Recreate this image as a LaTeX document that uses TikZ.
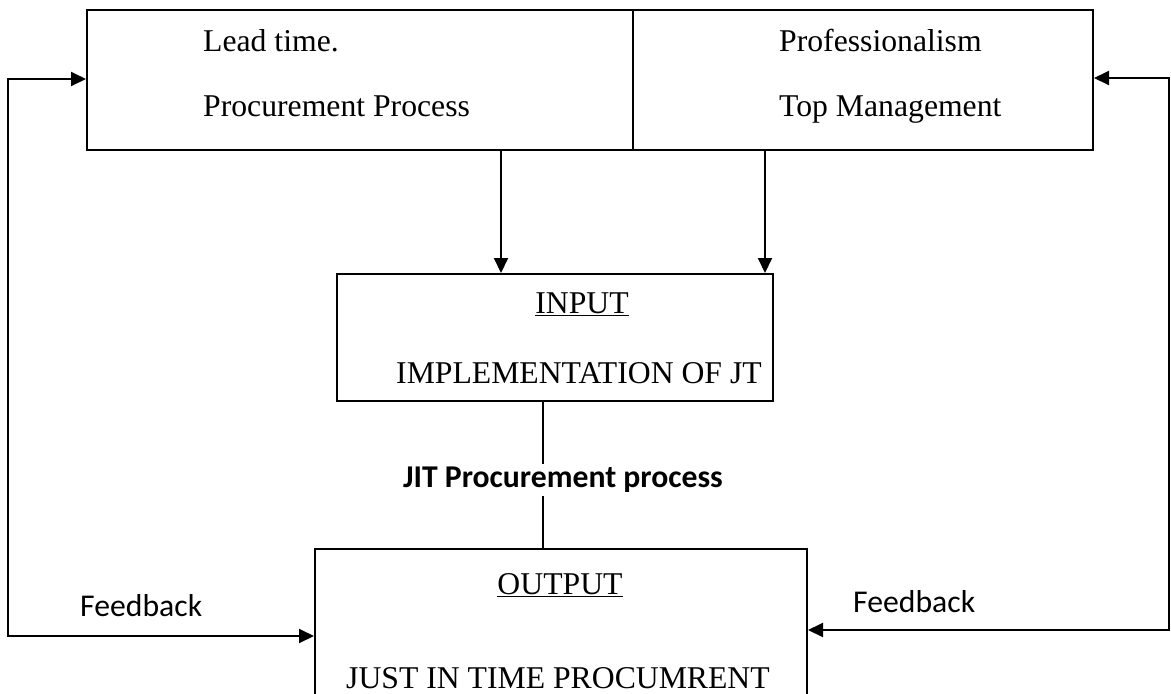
\documentclass[tikz,border=0pt]{standalone}
\usepackage{fontspec}
\setmainfont{Liberation Serif}
\newfontfamily\calfont{Carlito}
\usetikzlibrary{arrows.meta,calc}
\tikzset{
  box/.style={draw, line width=2pt, inner sep=0pt},
  txt/.style={inner sep=0pt, font=\fontsize{31.7}{38}\selectfont},
  lbl/.style={inner sep=0pt, font=\calfont\fontsize{31.7}{38}\selectfont},
  link/.style={line width=2pt, -{Triangle[length=15pt,width=14pt]}},
  dlink/.style={line width=2pt, {Triangle[length=15pt,width=14pt]}-{Triangle[length=15pt,width=14pt]}},
}
\begin{document}
\begin{tikzpicture}[x=1pt,y=-1pt]
\clip (0,0) rectangle (1171,694);
\fill[white] (0,0) rectangle (1171,694);

% boxes
\node[box, minimum width=546pt, minimum height=140pt] (topL) at (360,80) {};
\node[box, minimum width=460pt, minimum height=140pt] (topR) at (863,80) {};
\node[box, minimum width=436pt, minimum height=127pt] (inp) at (555,337.5) {};
\node[box, minimum width=492pt, minimum height=180pt] (out) at (561,639) {};

% box texts
\node[txt, anchor=base west] (t1) at (203,51) {Lead time.};
\node[txt, anchor=base west] (t2) at (203,116) {Procurement Process};
\node[txt, anchor=base west] (t3) at (779,51) {Professionalism};
\node[txt, anchor=base west] (t4) at (779,116) {Top Management};
\node[txt, anchor=base] (t5) at (582,313) {\underline{INPUT}};
\node[txt, anchor=base west] (t6) at (396,383) {IMPLEMENTATION OF JT};
\node[txt, anchor=base] (t7) at (560,594) {\underline{OUTPUT}};
\node[txt, anchor=base west] (t8) at (346,688) {JUST IN TIME PROCUMRENT};

% free labels
\node[lbl, anchor=base west] (fbL) at (80,616) {Feedback};
\node[lbl, anchor=base west] (fbR) at (853,612) {Feedback};
\node[lbl, font=\calfont\bfseries\fontsize{31.7}{38}\selectfont, inner sep=3pt] (jit) at (563,480) {JIT Procurement process};

% routing points
\coordinate (d1) at (501,0);
\coordinate (d2) at (765,0);
\coordinate (d3) at (543,0);
\coordinate (lb) at (8,636);
\coordinate (lt) at (8,79);
\coordinate (rb) at (1169,630);
\coordinate (rt) at (1169,78);

% connectors
\draw[link] (topL.south -| d1) -- (inp.north -| d1);
\draw[link] (topR.south -| d2) -- (inp.north -| d2);
\draw[line width=1.5pt] (inp.south -| d3) -- (jit.north -| d3);
\draw[line width=1.5pt] (jit.south -| d3) -- (out.north -| d3);
\draw[dlink] (out.west |- lb) -- (lb) -- (lt) -- (topL.west |- lt);
\draw[dlink] (out.east |- rb) -- (rb) -- (rt) -- (topR.east |- rt);
\end{tikzpicture}
\end{document}
